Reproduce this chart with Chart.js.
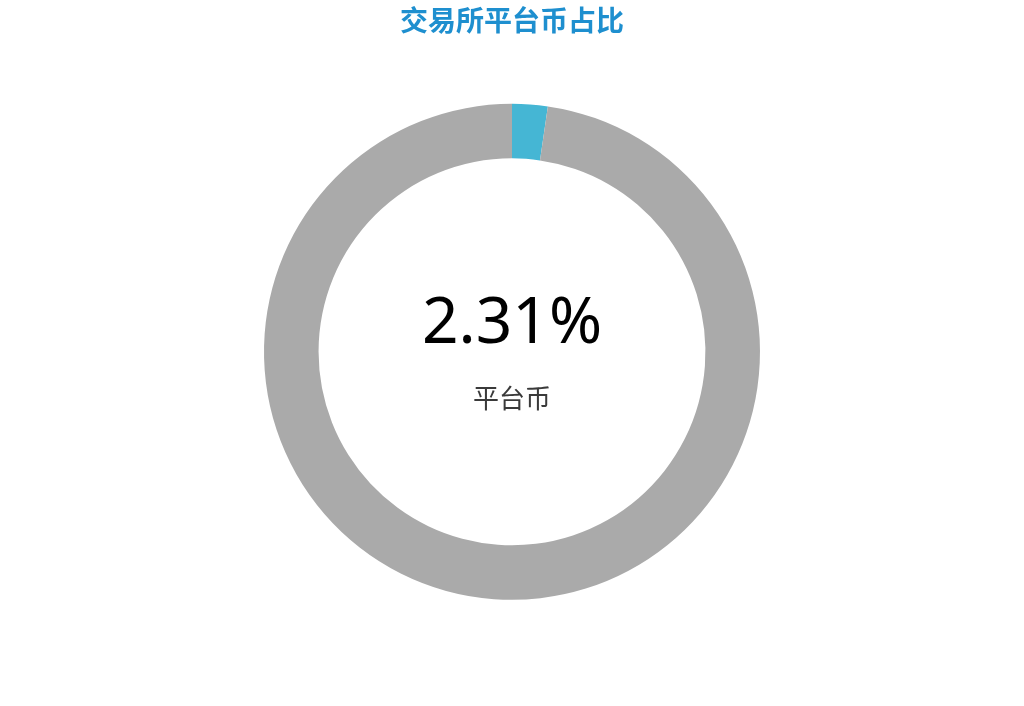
<!DOCTYPE html>
<html>
<head>
<title>交易所平台币占比</title>
<script src="https://cdn.jsdelivr.net/npm/chart.js"></script>
<style>
  body { margin: 0; background: #fff; }
  #chartContainer { width: 1024px; height: 706px; }
</style>
</head>
<body>
  <div id="chartContainer">
    <canvas id="shareChart" width="1024" height="706"></canvas>
  </div>

  <script>
    // Data
    const categories = ["平台币", "其他"];
    const shareValues = [2.31, 97.69];
    const sliceColors = ["#45b6d4", "#aaaaaa"];
    const centerValue = "2.31%";
    const centerLabel = "平台币";

    // Draws the big percentage and its label in the hole
    const centerTextPlugin = {
      id: 'centerText',
      afterDraw(chart) {
        const meta = chart.getDatasetMeta(0);
        if (!meta.data.length) return;
        const { x, y } = meta.data[0];
        const c = chart.ctx;
        c.save();
        c.textAlign = 'center';
        c.textBaseline = 'middle';
        c.fillStyle = '#000';
        c.font = '64px "Noto Sans", sans-serif';
        c.fillText(centerValue, x, y - 27);
        c.fillStyle = '#3a3a3a';
        c.font = '26px "Noto Sans CJK SC", sans-serif';
        c.fillText(centerLabel, x, y + 46);
        c.restore();
      }
    };

    const ctx = document.getElementById("shareChart").getContext("2d");
    new Chart(ctx, {
      type: 'doughnut',
      data: {
        labels: categories,
        datasets: [{
          data: shareValues,
          backgroundColor: sliceColors,
          borderWidth: 0
        }]
      },
      options: {
        responsive: false,
        animation: false,
        radius: 248,
        cutout: '78%',
        layout: { padding: { bottom: 50 } },
        plugins: {
          legend: { display: false },
          tooltip: { enabled: false },
          title: {
            display: true,
            text: '交易所平台币占比',
            color: '#1e8fcf',
            font: { family: '"Noto Sans CJK SC", sans-serif', size: 28, weight: 'bold' },
            padding: { top: 4, bottom: 10 }
          }
        }
      },
      plugins: [centerTextPlugin]
    });
  </script>
</body>
</html>
